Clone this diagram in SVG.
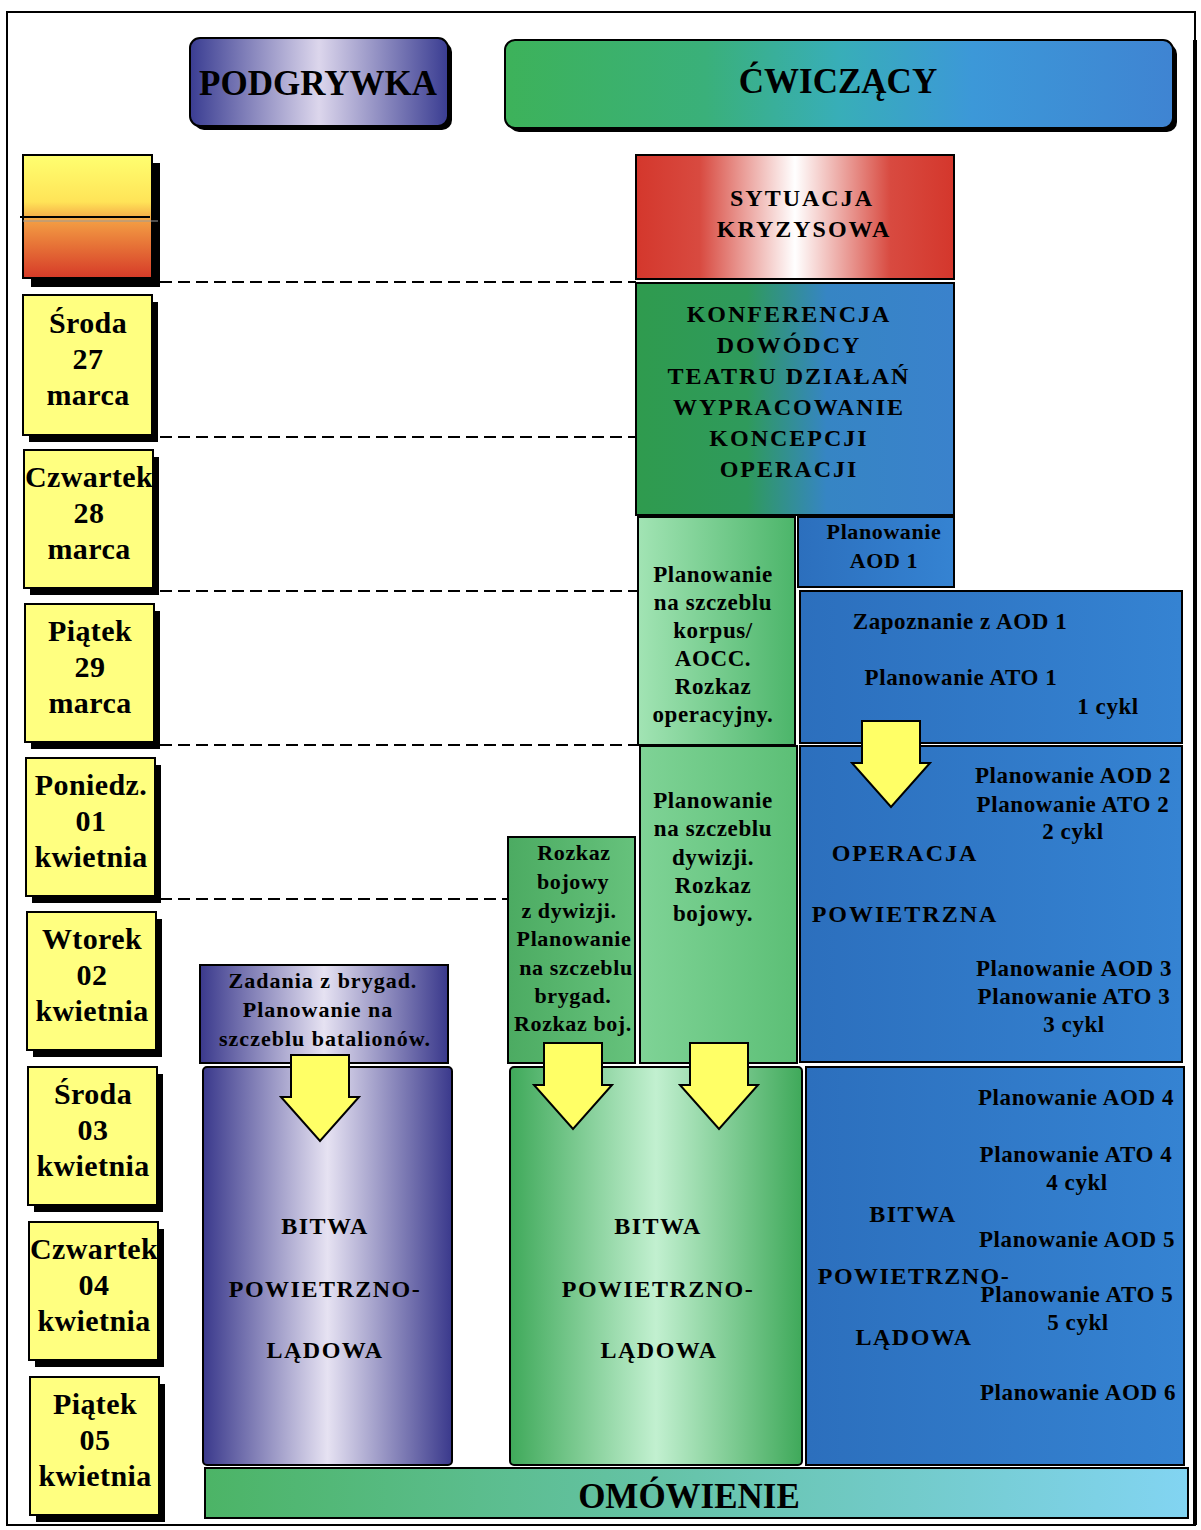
<svg xmlns="http://www.w3.org/2000/svg" width="1201" height="1530" viewBox="0 0 1201 1530">
  <style>
    text { font-family: "Liberation Serif", "Times New Roman", serif; font-weight: bold; fill: #000; }
    .box { stroke: #000; stroke-width: 2; }
    .shadow { fill: #000; }
    .day { fill: #ffff80; stroke: #000; stroke-width: 2; }
    .dayt { font-size: 30px; text-anchor: middle; letter-spacing: 0.4px; }
    .title { font-size: 35px; text-anchor: middle; }
    .caps { font-size: 24px; text-anchor: middle; letter-spacing: 2px; }
    .big { font-size: 24px; text-anchor: middle; letter-spacing: 1.5px; }
    .lbl { font-size: 22px; text-anchor: middle; letter-spacing: 0.6px; }
    .plan { font-size: 23px; text-anchor: middle; letter-spacing: 0.6px; }
    .dash { fill: none; stroke: #000; stroke-width: 2; stroke-dasharray: 12 6; }
    .arrow { fill: #ffff66; stroke: #000; stroke-width: 2; stroke-linejoin: miter; }
    .blue { fill: url(#gBlue); }
  </style>
  <defs>
    <linearGradient id="gPod" x1="0" y1="0" x2="1" y2="0">
      <stop offset="0" stop-color="#3a3d92"/>
      <stop offset="0.5" stop-color="#dcd6ec"/>
      <stop offset="1" stop-color="#3a3d92"/>
    </linearGradient>
    <linearGradient id="gCw" x1="0" y1="0" x2="1" y2="0">
      <stop offset="0" stop-color="#3db25a"/>
      <stop offset="0.3" stop-color="#3ab07a"/>
      <stop offset="0.5" stop-color="#38aeb8"/>
      <stop offset="0.7" stop-color="#3c98d8"/>
      <stop offset="1" stop-color="#3f84d2"/>
    </linearGradient>
    <linearGradient id="gCrisis" x1="0" y1="0" x2="1" y2="0">
      <stop offset="0" stop-color="#d4372c"/>
      <stop offset="0.2" stop-color="#d84a40"/>
      <stop offset="0.5" stop-color="#ffffff"/>
      <stop offset="0.8" stop-color="#d84a40"/>
      <stop offset="1" stop-color="#d4372c"/>
    </linearGradient>
    <linearGradient id="gKonf" x1="0" y1="0" x2="1" y2="0">
      <stop offset="0" stop-color="#2f9b4e"/>
      <stop offset="0.35" stop-color="#2f9a5c"/>
      <stop offset="0.6" stop-color="#3685c4"/>
      <stop offset="1" stop-color="#3a82cc"/>
    </linearGradient>
    <linearGradient id="gMint" x1="0" y1="0" x2="1" y2="0">
      <stop offset="0" stop-color="#a2e4b4"/>
      <stop offset="1" stop-color="#4cb56a"/>
    </linearGradient>
    <linearGradient id="gDiv" x1="0" y1="0" x2="1" y2="0">
      <stop offset="0" stop-color="#7fd396"/>
      <stop offset="1" stop-color="#5cbf76"/>
    </linearGradient>
    <linearGradient id="gBrig" x1="0" y1="0" x2="1" y2="0">
      <stop offset="0" stop-color="#4cab62"/>
      <stop offset="1" stop-color="#66c27c"/>
    </linearGradient>
    <linearGradient id="gBlue" x1="0" y1="0" x2="1" y2="0">
      <stop offset="0" stop-color="#2c6fbd"/>
      <stop offset="1" stop-color="#3583d2"/>
    </linearGradient>
    <linearGradient id="gPurple" x1="0" y1="0" x2="1" y2="0">
      <stop offset="0" stop-color="#3a398c"/>
      <stop offset="0.5" stop-color="#e6e2f2"/>
      <stop offset="1" stop-color="#3a398c"/>
    </linearGradient>
    <linearGradient id="gGreenBig" x1="0" y1="0" x2="1" y2="0">
      <stop offset="0" stop-color="#3fa95a"/>
      <stop offset="0.5" stop-color="#c2f0d0"/>
      <stop offset="1" stop-color="#3fa95a"/>
    </linearGradient>
    <linearGradient id="gOmow" x1="0" y1="0" x2="1" y2="0">
      <stop offset="0" stop-color="#4cb466"/>
      <stop offset="1" stop-color="#82d4f2"/>
    </linearGradient>
    <linearGradient id="gSun" x1="0" y1="0" x2="0" y2="1">
      <stop offset="0" stop-color="#ffff70"/>
      <stop offset="0.38" stop-color="#ffe458"/>
      <stop offset="0.55" stop-color="#f29a42"/>
      <stop offset="1" stop-color="#d63a28"/>
    </linearGradient>
    <!-- block arrow pointing down, origin at top centre -->
    <path id="downArrow" class="arrow" d="M -29 0 H 29 V 42 H 39 L 0 86 L -39 42 H -29 Z"/>
  </defs>

  <rect width="1201" height="1530" fill="#ffffff"/>

  <!-- outer frame -->
  <g id="frame">
    <rect x="7" y="12" width="1188" height="1513" fill="none" stroke="#000" stroke-width="2"/>
    <line x1="1195" y1="40" x2="1195" y2="1525" stroke="#000" stroke-width="4"/>
  </g>

  <!-- column headers -->
  <g id="hdr-podgrywka">
    <rect x="194" y="42" width="258" height="88" rx="10" class="shadow"/>
    <rect x="190" y="38" width="258" height="88" rx="10" fill="url(#gPod)" class="box"/>
    <text x="318" y="95" class="title">PODGRYWKA</text>
  </g>
  <g id="hdr-cwiczacy">
    <rect x="509" y="44" width="668" height="88" rx="10" class="shadow"/>
    <rect x="505" y="40" width="668" height="88" rx="10" fill="url(#gCw)" class="box"/>
    <text x="838" y="93" class="title">ĆWICZĄCY</text>
  </g>

  <!-- timeline -->
  <g id="day-start">
    <rect x="31" y="163" width="129" height="124" class="shadow"/>
    <rect x="23" y="155" width="129" height="123" fill="url(#gSun)" stroke="#000" stroke-width="2"/>
    <line x1="20" y1="217" x2="150" y2="217" stroke="#000" stroke-width="2"/>
    <line x1="23" y1="221" x2="158" y2="221" stroke="#9a9a9a" stroke-width="1"/>
  </g>
  <g id="day-sroda-27">
    <rect x="29" y="302" width="129" height="140" class="shadow"/>
    <rect x="23" y="295" width="129" height="140" class="day"/>
    <text class="dayt" x="88" y="333">Środa</text>
    <text class="dayt" x="88" y="369">27</text>
    <text class="dayt" x="88" y="405">marca</text>
  </g>
  <g id="day-czwartek-28">
    <rect x="30" y="457" width="129" height="138" class="shadow"/>
    <rect x="24" y="450" width="129" height="138" class="day"/>
    <text class="dayt" x="89" y="487">Czwartek</text>
    <text class="dayt" x="89" y="523">28</text>
    <text class="dayt" x="89" y="559">marca</text>
  </g>
  <g id="day-piatek-29">
    <rect x="31" y="611" width="129" height="138" class="shadow"/>
    <rect x="25" y="604" width="129" height="138" class="day"/>
    <text class="dayt" x="90" y="641">Piątek</text>
    <text class="dayt" x="90" y="677">29</text>
    <text class="dayt" x="90" y="713">marca</text>
  </g>
  <g id="day-poniedz-01">
    <rect x="32" y="765" width="129" height="138" class="shadow"/>
    <rect x="26" y="758" width="129" height="138" class="day"/>
    <text class="dayt" x="91" y="795">Poniedz.</text>
    <text class="dayt" x="91" y="831">01</text>
    <text class="dayt" x="91" y="867">kwietnia</text>
  </g>
  <g id="day-wtorek-02">
    <rect x="33" y="919" width="129" height="138" class="shadow"/>
    <rect x="27" y="912" width="129" height="138" class="day"/>
    <text class="dayt" x="92" y="949">Wtorek</text>
    <text class="dayt" x="92" y="985">02</text>
    <text class="dayt" x="92" y="1021">kwietnia</text>
  </g>
  <g id="day-sroda-03">
    <rect x="34" y="1074" width="129" height="138" class="shadow"/>
    <rect x="28" y="1067" width="129" height="138" class="day"/>
    <text class="dayt" x="93" y="1104">Środa</text>
    <text class="dayt" x="93" y="1140">03</text>
    <text class="dayt" x="93" y="1176">kwietnia</text>
  </g>
  <g id="day-czwartek-04">
    <rect x="35" y="1229" width="129" height="138" class="shadow"/>
    <rect x="29" y="1222" width="129" height="138" class="day"/>
    <text class="dayt" x="94" y="1259">Czwartek</text>
    <text class="dayt" x="94" y="1295">04</text>
    <text class="dayt" x="94" y="1331">kwietnia</text>
  </g>
  <g id="day-piatek-05">
    <rect x="36" y="1384" width="129" height="138" class="shadow"/>
    <rect x="30" y="1377" width="129" height="138" class="day"/>
    <text class="dayt" x="95" y="1414">Piątek</text>
    <text class="dayt" x="95" y="1450">05</text>
    <text class="dayt" x="95" y="1486">kwietnia</text>
  </g>

  <!-- exercise blocks -->
  <g id="sytuacja">
    <rect x="636" y="155" width="318" height="124" fill="url(#gCrisis)" class="box"/>
    <text class="caps" x="802" y="206">SYTUACJA</text>
    <text class="caps" x="804" y="237">KRYZYSOWA</text>
  </g>
  <g id="konferencja">
    <rect x="636" y="283" width="318" height="232" fill="url(#gKonf)" class="box"/>
    <text class="caps" x="789" y="322">KONFERENCJA</text>
    <text class="caps" x="789" y="353">DOWÓDCY</text>
    <text class="caps" x="789" y="384">TEATRU DZIAŁAŃ</text>
    <text class="caps" x="789" y="415">WYPRACOWANIE</text>
    <text class="caps" x="789" y="446">KONCEPCJI</text>
    <text class="caps" x="789" y="477">OPERACJI</text>
  </g>
  <g id="plan-korpus">
    <rect x="638" y="517" width="157" height="228" fill="url(#gMint)" class="box"/>
    <text class="plan" x="713" y="582">Planowanie</text>
    <text class="plan" x="713" y="610">na szczeblu</text>
    <text class="plan" x="713" y="638">korpus/</text>
    <text class="plan" x="713" y="666">AOCC.</text>
    <text class="plan" x="713" y="694">Rozkaz</text>
    <text class="plan" x="713" y="722">operacyjny.</text>
  </g>
  <g id="plan-aod1">
    <rect x="798" y="517" width="156" height="70" class="blue box"/>
    <text class="lbl" x="884" y="539">Planowanie</text>
    <text class="lbl" x="884" y="568">AOD 1</text>
  </g>
  <g id="cykl-1">
    <rect x="800" y="591" width="382" height="152" class="blue box"/>
    <text class="plan" x="960" y="629">Zapoznanie z AOD 1</text>
    <text class="plan" x="961" y="685">Planowanie ATO 1</text>
    <text class="plan" x="1108" y="714">1 cykl</text>
  </g>
  <g id="plan-dywizja">
    <rect x="640" y="746" width="157" height="317" fill="url(#gDiv)" class="box"/>
    <text class="plan" x="713" y="808">Planowanie</text>
    <text class="plan" x="713" y="836">na szczeblu</text>
    <text class="plan" x="713" y="865">dywizji.</text>
    <text class="plan" x="713" y="893">Rozkaz</text>
    <text class="plan" x="713" y="921">bojowy.</text>
  </g>
  <g id="operacja-powietrzna">
    <rect x="800" y="746" width="382" height="316" class="blue box"/>
    <text class="plan" x="1073" y="783">Planowanie AOD 2</text>
    <text class="plan" x="1073" y="812">Planowanie ATO 2</text>
    <text class="plan" x="1073" y="839">2 cykl</text>
    <text class="caps" x="905" y="861">OPERACJA</text>
    <text class="caps" x="905" y="922">POWIETRZNA</text>
    <text class="plan" x="1074" y="976">Planowanie AOD 3</text>
    <text class="plan" x="1074" y="1004">Planowanie ATO 3</text>
    <text class="plan" x="1074" y="1032">3 cykl</text>
  </g>
  <g id="plan-brygada">
    <rect x="508" y="837" width="127" height="226" fill="url(#gBrig)" class="box"/>
    <text class="lbl" x="574" y="860">Rozkaz</text>
    <text class="lbl" x="573" y="889">bojowy</text>
    <text class="lbl" x="569" y="918">z dywizji.</text>
    <text class="lbl" x="574" y="946">Planowanie</text>
    <text class="lbl" x="576" y="975">na szczeblu</text>
    <text class="lbl" x="573" y="1003">brygad.</text>
    <text class="lbl" x="573" y="1031">Rozkaz boj.</text>
  </g>
  <g id="plan-batalion">
    <rect x="200" y="965" width="248" height="98" fill="url(#gPurple)" class="box"/>
    <text class="lbl" x="323" y="988" style="letter-spacing:1px">Zadania z brygad.</text>
    <text class="lbl" x="318" y="1017" style="letter-spacing:1px">Planowanie na</text>
    <text class="lbl" x="325" y="1046" style="letter-spacing:1px">szczeblu batalionów.</text>
  </g>
  <g id="bitwa-podgrywka">
    <rect x="203" y="1067" width="249" height="398" rx="4" fill="url(#gPurple)" class="box"/>
    <text class="big" x="325" y="1234">BITWA</text>
    <text class="big" x="325" y="1297">POWIETRZNO-</text>
    <text class="big" x="325" y="1358">LĄDOWA</text>
  </g>
  <g id="bitwa-cwiczacy">
    <rect x="510" y="1067" width="292" height="398" rx="4" fill="url(#gGreenBig)" class="box"/>
    <text class="big" x="658" y="1234">BITWA</text>
    <text class="big" x="658" y="1297">POWIETRZNO-</text>
    <text class="big" x="659" y="1358">LĄDOWA</text>
  </g>
  <g id="bitwa-lotnictwo">
    <rect x="806" y="1067" width="378" height="398" class="blue box"/>
    <text class="plan" x="1076" y="1105">Planowanie AOD 4</text>
    <text class="plan" x="1076" y="1162">Planowanie ATO 4</text>
    <text class="plan" x="1077" y="1190">4 cykl</text>
    <text class="big" x="913" y="1222">BITWA</text>
    <text class="plan" x="1077" y="1247">Planowanie AOD 5</text>
    <text class="big" x="914" y="1284">POWIETRZNO-</text>
    <text class="plan" x="1077" y="1302">Planowanie ATO 5</text>
    <text class="plan" x="1078" y="1330">5 cykl</text>
    <text class="big" x="914" y="1345">LĄDOWA</text>
    <text class="plan" x="1078" y="1400">Planowanie AOD 6</text>
  </g>
  <g id="omowienie">
    <rect x="205" y="1468" width="983" height="50" fill="url(#gOmow)" class="box"/>
    <text x="689" y="1508" style="font-size:35px; text-anchor:middle">OMÓWIENIE</text>
  </g>

  <!-- day separators and flow arrows -->
  <g id="connectors">
    <line class="dash" x1="160" y1="282" x2="636" y2="282"/>
    <line class="dash" x1="160" y1="437" x2="636" y2="437"/>
    <line class="dash" x1="160" y1="591" x2="638" y2="591"/>
    <line class="dash" x1="160" y1="745" x2="638" y2="745"/>
    <line class="dash" x1="160" y1="899" x2="508" y2="899"/>
    <use href="#downArrow" x="891" y="721"/>
    <use href="#downArrow" x="320" y="1055"/>
    <use href="#downArrow" x="573" y="1043"/>
    <use href="#downArrow" x="719" y="1043"/>
  </g>
</svg>
